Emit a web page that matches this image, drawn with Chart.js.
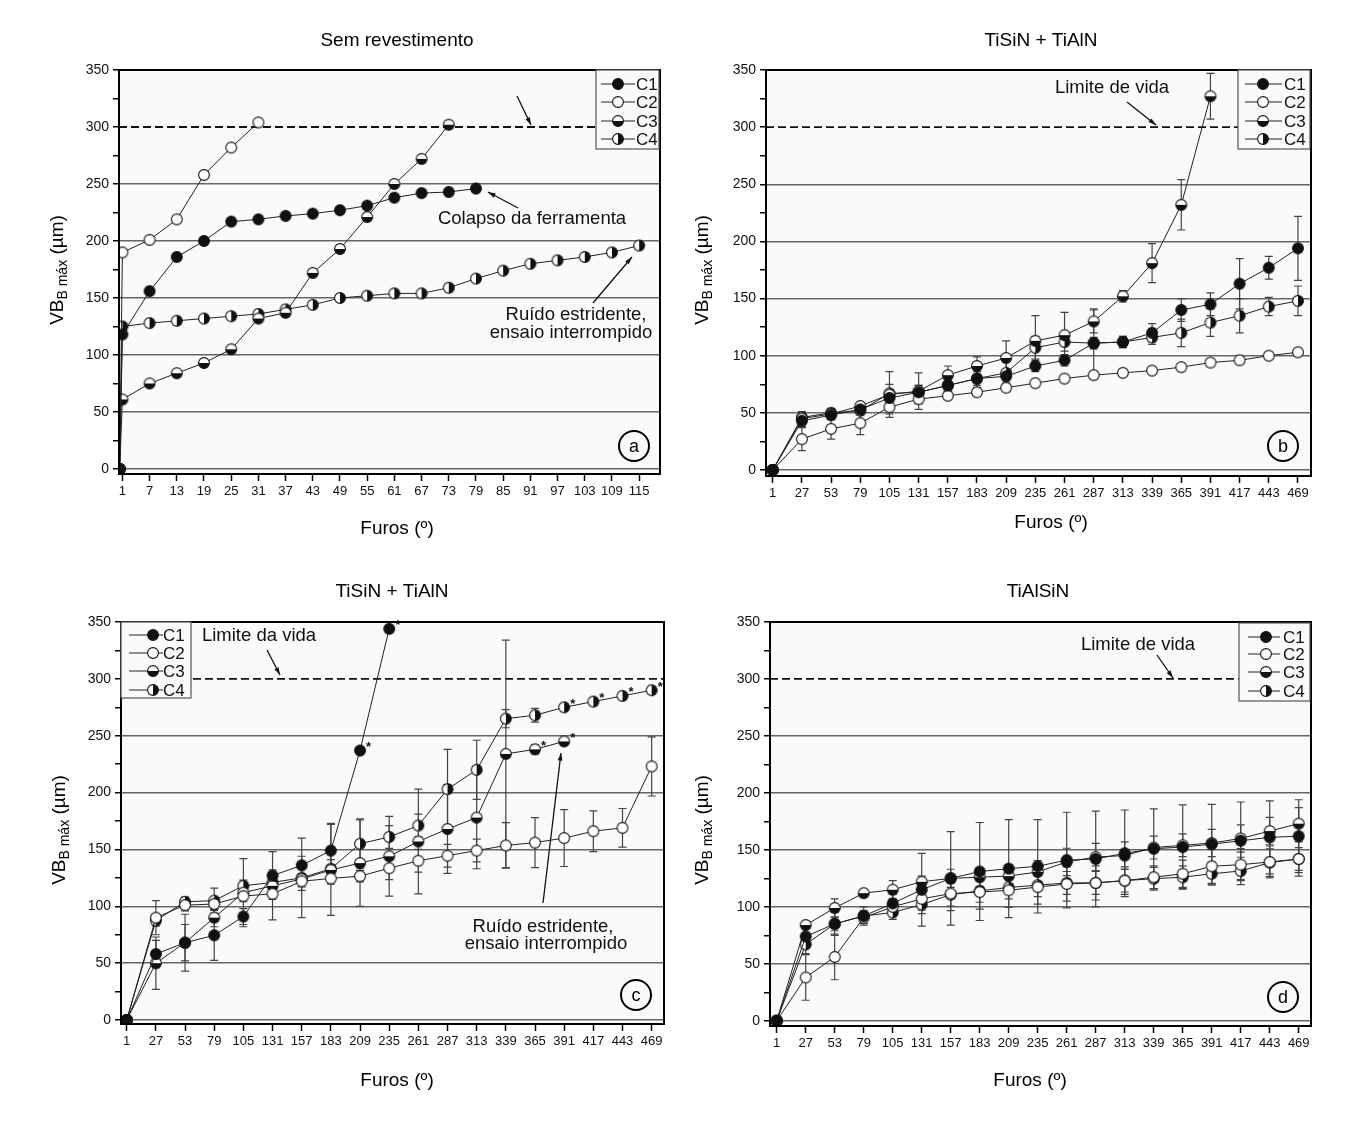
<!DOCTYPE html>
<html>
<head>
<meta charset="utf-8">
<script src="https://cdn.jsdelivr.net/npm/chart.js@4.4.1/dist/chart.umd.min.js"></script>
<style>
  body { margin: 0; background: #fff; width: 1358px; height: 1122px; position: relative; overflow: hidden; }
  canvas { position: absolute; }
</style>
</head>
<body>
<canvas id="ca" width="679" height="561" style="left:0;top:0"></canvas>
<canvas id="cb" width="679" height="561" style="left:679px;top:0"></canvas>
<canvas id="cc" width="679" height="561" style="left:0;top:561px"></canvas>
<canvas id="cd" width="679" height="561" style="left:679px;top:561px"></canvas>
<script>
// ---- data: panel a (sem revestimento) ----
const furosA = [0.4, 1, 7, 13, 19, 25, 31, 37, 43, 49, 55, 61, 67, 73, 79, 85, 91, 97, 103, 109, 115];
const ticksA = [1, 7, 13, 19, 25, 31, 37, 43, 49, 55, 61, 67, 73, 79, 85, 91, 97, 103, 109, 115];
const c1A = [0, 118, 156, 186, 200, 217, 219, 222, 224, 227, 231, 238, 242, 243, 246];
const c2A = [0, 190, 201, 219, 258, 282, 304];
const c3A = [0, 61, 75, 84, 93, 105, 132, 137, 172, 193, 221, 250, 272, 302];
const c4A = [0, 125, 128, 130, 132, 134, 136, 140, 144, 150, 152, 154, 154, 159, 167, 174, 180, 183, 186, 190, 196];

// ---- shared x values for b, c, d ----
const furos = [1, 27, 53, 79, 105, 131, 157, 183, 209, 235, 261, 287, 313, 339, 365, 391, 417, 443, 469];

// ---- panel b (TiSiN + TiAlN) ----
const c1B = [0, 43, 48, 53, 63, 68, 74, 80, 82, 91, 96, 111, 112, 120, 140, 145, 163, 177, 194];
const c2B = [0, 27, 36, 41, 55, 62, 65, 68, 72, 76, 80, 83, 85, 87, 90, 94, 96, 100, 103];
const c3B = [0, 45, 49, 56, 66, 69, 83, 91, 98, 113, 118, 130, 152, 181, 232, 327];
const c4B = [0, 46, 50, 52, 67, 68, 74, 80, 85, 107, 112, 111, 112, 116, 120, 129, 135, 143, 148];
const e1B = [0, 5, 4, 3, 4, 6, 5, 6, 5, 5, 5, 5, 5, 8, 10, 10, 22, 10, 28];
const e2B = [0, 10, 9, 10, 6, 4, 3, 3, 3, 3, 3, 3, 3, 3, 3, 3, 3, 3, 3];
const e3B = [0, 4, 4, 3, 20, 16, 8, 8, 15, 22, 20, 10, 5, 17, 22, 20];
const e4B = [0, 5, 4, 4, 8, 6, 5, 8, 10, 10, 8, 30, 5, 6, 12, 12, 15, 8, 13];

// ---- panel c (TiSiN + TiAlN) ----
const c1C = [0, 58, 68, 74.5, 91, 127, 136, 149, 237, 344];
const c2C = [0, 90, 101, 102, 109, 111, 122, 124.5, 126.5, 133.5, 140, 144.5, 149, 153.5, 156, 160, 166, 169, 223];
const c3C = [0, 50, 68, 90, 112, 118, 124, 132, 138, 144, 157, 168, 178, 234, 238, 245];
const c4C = [0, 87.5, 104, 105, 118, 121, 125, 133, 155, 161, 171, 203, 220, 265, 268, 275, 280, 285, 290];
const e1C = [0, 12, 16, 22, 7, 5, 8, 24, 0, 0];
const e2C = [0, 15, 5, 5, 5, 5, 5, 5, 5, 10, 10, 10, 10, 20, 22, 25, 18, 17, 26];
const e3C = [0, 23, 25, 8, 30, 30, 10, 40, 38, 35, 46, 39, 45, 100, 4, 3];
const e4C = [0, 5, 4, 11, 5, 5, 35, 8, 22, 10, 10, 35, 26, 8, 6, 3, 3, 3, 3];
const starsC1 = [8, 9];
const starsC3 = [14, 15];
const starsC4 = [15, 16, 17, 18];

// ---- panel d (TiAlSiN) ----
const c1D = [0, 74, 85, 92, 103, 115, 125, 131, 133.5, 135.6, 141, 142, 147, 151, 152.5, 155, 158, 161, 162];
const c2D = [0, 38, 56, 90.5, 100, 107, 111.6, 113, 114.5, 117.4, 120, 121, 123, 126, 129, 135.6, 137, 139.4, 142];
const c3D = [0, 84, 99, 112, 115, 122, 125, 126, 127, 130.6, 139.4, 143.7, 145, 152, 154, 156, 160, 166.5, 173];
const c4D = [0, 67, 85, 92, 95, 102, 110.7, 114, 117, 119, 121, 121, 123, 124.7, 126, 129, 131.5, 138.8, 142];
const e1D = [0, 8, 10, 8, 8, 32, 41, 43, 43, 41, 42, 42, 38, 35, 37, 35, 34, 32, 32];
const e2D = [0, 20, 20, 5, 6, 10, 15, 15, 15, 15, 15, 15, 12, 10, 12, 15, 14, 14, 10];
const e3D = [0, 3, 8, 3, 8, 5, 8, 8, 10, 10, 12, 12, 12, 10, 10, 12, 12, 12, 14];
const e4D = [0, 8, 6, 5, 6, 8, 10, 10, 10, 10, 10, 10, 10, 10, 10, 10, 12, 12, 15];

const yTicks = [0, 25, 50, 75, 100, 125, 150, 175, 200, 225, 250, 275, 300, 325, 350];
const vidaLimite = 300;

const FONT = '"Liberation Sans", Arial, sans-serif';

function makeMarker(kind) {
    const c = document.createElement('canvas');
    c.width = 14; c.height = 14;
    const g = c.getContext('2d');
    const r = 5.4;
    g.beginPath(); g.arc(7, 7, r, 0, Math.PI * 2);
    g.fillStyle = kind === 'full' ? '#111' : '#fff';
    g.fill();
    if (kind === 'bottom' || kind === 'right') {
        g.beginPath();
        if (kind === 'bottom') g.arc(7, 7, r, 0, Math.PI);
        else g.arc(7, 7, r, -Math.PI / 2, Math.PI / 2);
        g.closePath();
        g.fillStyle = '#111';
        g.fill();
    }
    g.beginPath(); g.arc(7, 7, r, 0, Math.PI * 2);
    g.lineWidth = 1.1; g.strokeStyle = '#111'; g.stroke();
    return c;
}

const markers = { C1: makeMarker('full'), C2: makeMarker('open'), C3: makeMarker('bottom'), C4: makeMarker('right') };

function series(label, xs, ys, errs, stars) {
    return {
        label: label,
        data: ys.map((v, i) => ({ x: xs[i], y: v })),
        errors: errs || [],
        stars: stars || [],
        pointStyle: markers[label],
        borderColor: '#222',
        borderWidth: 1,
        fill: false,
        tension: 0
    };
}

const panels = [
    { id: 'ca', ox: 0, oy: 0, l: 119, t: 70, r: 660, b: 474, xmin: 0.25, xmax: 119.6, ymin: -4.4, xTicks: ticksA,
      title: ['Sem revestimento', 397, 41], xTitle: [397, 529], yTitle: [58, 270],
      legend: { x: 596, y: 70, w: 63, h: 79, lx1: 601, lx2: 635, mx: 618, tx: 636, ys: [84, 102, 121, 139] },
      notes: [['Colapso da ferramenta', 532, 219], ['Ruído estridente,', 576, 315], ['ensaio interrompido', 571, 333]],
      arrows: [[517, 96, 531, 125], [518, 208, 488, 192], [593, 303, 632, 257]],
      letter: ['a', 634, 446],
      datasets: [series('C1', furosA, c1A), series('C2', furosA, c2A), series('C3', furosA, c3A), series('C4', furosA, c4A)] },
    { id: 'cb', ox: 679, oy: 0, l: 766, t: 70, r: 1311, b: 476, xmin: -5, xmax: 480.6, ymin: -5.25, xTicks: furos,
      title: ['TiSiN + TiAlN', 1041, 41], xTitle: [1051, 523], yTitle: [703, 270],
      legend: { x: 1238, y: 70, w: 72, h: 79, lx1: 1245, lx2: 1282, mx: 1263, tx: 1284, ys: [84, 102, 121, 139] },
      notes: [['Limite de vida', 1112, 88]],
      arrows: [[1127, 102, 1156, 125]],
      letter: ['b', 1283, 446],
      datasets: [series('C1', furos, c1B, e1B), series('C2', furos, c2B, e2B), series('C3', furos, c3B, e3B), series('C4', furos, c4B, e4B)] },
    { id: 'cc', ox: 0, oy: 561, l: 121, t: 622, r: 664, b: 1024, xmin: -4.1, xmax: 480, ymin: -3.5, xTicks: furos,
      title: ['TiSiN + TiAlN', 392, 592], xTitle: [397, 1081], yTitle: [60, 830],
      legend: { x: 121, y: 622, w: 70, h: 76, lx1: 129, lx2: 163, mx: 153, tx: 163, ys: [635, 653, 671, 690] },
      notes: [['Limite da vida', 259, 636], ['Ruído estridente,', 543, 927], ['ensaio interrompido', 546, 944]],
      arrows: [[267, 650, 280, 675], [543, 903, 561, 753]],
      letter: ['c', 636, 995],
      datasets: [series('C1', furos, c1C, e1C, starsC1), series('C2', furos, c2C, e2C), series('C3', furos, c3C, e3C, starsC3), series('C4', furos, c4C, e4C, starsC4)] },
    { id: 'cd', ox: 679, oy: 561, l: 770, t: 622, r: 1311, b: 1026, xmin: -5, xmax: 480, ymin: -4.6, xTicks: furos,
      title: ['TiAlSiN', 1038, 592], xTitle: [1030, 1081], yTitle: [703, 830],
      legend: { x: 1239, y: 623, w: 71, h: 78, lx1: 1248, lx2: 1280, mx: 1266, tx: 1283, ys: [637, 654, 672, 691] },
      notes: [['Limite de vida', 1138, 645]],
      arrows: [[1157, 655, 1173, 678]],
      letter: ['d', 1283, 997],
      datasets: [series('C1', furos, c1D, e1D), series('C2', furos, c2D, e2D), series('C3', furos, c3D, e3D), series('C4', furos, c4D, e4D)] }
];

const Y_W = 50, X_H = 40;

function drawArrow(ctx, x1, y1, x2, y2) {
    ctx.beginPath(); ctx.moveTo(x1, y1); ctx.lineTo(x2, y2);
    ctx.lineWidth = 1.3; ctx.strokeStyle = '#111'; ctx.stroke();
    const ang = Math.atan2(y2 - y1, x2 - x1), len = 8;
    ctx.beginPath();
    ctx.moveTo(x2, y2);
    ctx.lineTo(x2 - len * Math.cos(ang - 0.3), y2 - len * Math.sin(ang - 0.3));
    ctx.lineTo(x2 - len * Math.cos(ang + 0.3), y2 - len * Math.sin(ang + 0.3));
    ctx.closePath(); ctx.fillStyle = '#111'; ctx.fill();
}

function panelPlugin(p) {
    const X = v => v - p.ox, Y = v => v - p.oy;
    return {
        id: 'panelDecor',
        beforeDraw(chart) {
            const a = chart.chartArea, ctx = chart.ctx;
            ctx.save();
            ctx.fillStyle = '#fafafa';
            ctx.fillRect(a.left, a.top, a.right - a.left, a.bottom - a.top);
            ctx.restore();
        },
        beforeDatasetsDraw(chart) {
            const ctx = chart.ctx, xs = chart.scales.x, ys = chart.scales.y, a = chart.chartArea;
            ctx.save();
            // limite de vida
            const yl = ys.getPixelForValue(vidaLimite);
            ctx.beginPath(); ctx.setLineDash([8, 4]);
            ctx.moveTo(a.left, yl); ctx.lineTo(a.right, yl);
            ctx.lineWidth = 1.8; ctx.strokeStyle = '#111'; ctx.stroke();
            ctx.setLineDash([]);
            // error bars
            ctx.strokeStyle = '#444'; ctx.lineWidth = 1.2;
            chart.data.datasets.forEach(ds => {
                ds.data.forEach((pt, i) => {
                    const e = ds.errors[i];
                    if (!e) return;
                    const px = xs.getPixelForValue(pt.x);
                    const top = ys.getPixelForValue(pt.y + e), bot = ys.getPixelForValue(pt.y - e);
                    ctx.beginPath();
                    ctx.moveTo(px, top); ctx.lineTo(px, bot);
                    ctx.moveTo(px - 4, top); ctx.lineTo(px + 4, top);
                    ctx.moveTo(px - 4, bot); ctx.lineTo(px + 4, bot);
                    ctx.stroke();
                });
            });
            ctx.restore();
        },
        afterDatasetsDraw(chart) {
            const ctx = chart.ctx, xs = chart.scales.x, ys = chart.scales.y;
            ctx.save();
            ctx.font = 'bold 13px ' + FONT; ctx.fillStyle = '#111';
            ctx.textAlign = 'left'; ctx.textBaseline = 'middle';
            chart.data.datasets.forEach(ds => {
                ds.stars.forEach(i => {
                    const pt = ds.data[i];
                    ctx.fillText('*', xs.getPixelForValue(pt.x) + 6, ys.getPixelForValue(pt.y) - 3);
                });
            });
            ctx.restore();
        },
        afterDraw(chart) {
            const ctx = chart.ctx, a = chart.chartArea;
            ctx.save();
            // frame
            ctx.strokeStyle = '#000'; ctx.lineWidth = 2;
            ctx.strokeRect(a.left, a.top, a.right - a.left, a.bottom - a.top);
            // legend
            const lg = p.legend;
            ctx.fillStyle = '#fafafa';
            ctx.fillRect(X(lg.x), Y(lg.y), lg.w, lg.h);
            ctx.lineWidth = 1.2; ctx.strokeStyle = '#555';
            ctx.strokeRect(X(lg.x), Y(lg.y), lg.w, lg.h);
            ctx.font = '17px ' + FONT; ctx.textAlign = 'left'; ctx.textBaseline = 'middle';
            ['C1', 'C2', 'C3', 'C4'].forEach((name, i) => {
                const yy = Y(lg.ys[i]);
                ctx.beginPath(); ctx.moveTo(X(lg.lx1), yy); ctx.lineTo(X(lg.lx2), yy);
                ctx.lineWidth = 1; ctx.strokeStyle = '#222'; ctx.stroke();
                ctx.drawImage(markers[name], X(lg.mx) - 7, yy - 7);
                ctx.fillStyle = '#111';
                ctx.fillText(name, X(lg.tx), yy + 1);
            });
            // notes and arrows
            ctx.font = '18.5px ' + FONT; ctx.textAlign = 'center'; ctx.fillStyle = '#111';
            p.notes.forEach(n => ctx.fillText(n[0], X(n[1]), Y(n[2])));
            p.arrows.forEach(ar => drawArrow(ctx, X(ar[0]), Y(ar[1]), X(ar[2]), Y(ar[3])));
            // panel letter
            const lt = p.letter;
            ctx.beginPath(); ctx.arc(X(lt[1]), Y(lt[2]), 15, 0, Math.PI * 2);
            ctx.fillStyle = '#fafafa'; ctx.fill();
            ctx.lineWidth = 2; ctx.strokeStyle = '#000'; ctx.stroke();
            ctx.fillStyle = '#000'; ctx.font = '18px ' + FONT;
            ctx.fillText(lt[0], X(lt[1]), Y(lt[2]) + 1);
            // titles
            ctx.font = '19px ' + FONT;
            ctx.fillText(p.title[0], X(p.title[1]), Y(p.title[2]));
            ctx.fillText('Furos (º)', X(p.xTitle[0]), Y(p.xTitle[1]));
            // y title with subscript
            ctx.translate(X(p.yTitle[0]), Y(p.yTitle[1]));
            ctx.rotate(-Math.PI / 2);
            const big = '19px ' + FONT, small = '14px ' + FONT;
            const parts = [['VB', big, 0], ['B máx', small, 5], [' (µm)', big, 0]];
            let total = 0;
            parts.forEach(pt => { ctx.font = pt[1]; total += ctx.measureText(pt[0]).width; });
            let cx = -total / 2;
            ctx.textAlign = 'left';
            parts.forEach(pt => {
                ctx.font = pt[1];
                ctx.fillText(pt[0], cx, pt[2]);
                cx += ctx.measureText(pt[0]).width;
            });
            ctx.restore();
        }
    };
}

panels.forEach(p => {
    const canvas = document.getElementById(p.id);
    new Chart(canvas, {
        type: 'line',
        data: { datasets: p.datasets },
        options: {
            responsive: false,
            animation: false,
            devicePixelRatio: 1,
            layout: {
                padding: {
                    left: p.l - p.ox - Y_W,
                    top: p.t - p.oy,
                    right: p.ox + 679 - p.r,
                    bottom: p.oy + 561 - p.b - X_H
                }
            },
            plugins: { legend: { display: false }, tooltip: { enabled: false } },
            scales: {
                x: {
                    type: 'linear', min: p.xmin, max: p.xmax,
                    afterBuildTicks: s => { s.ticks = p.xTicks.map(v => ({ value: v })); },
                    afterFit: s => { s.height = X_H; },
                    border: { display: false },
                    grid: { drawOnChartArea: false, tickLength: 7, tickColor: '#000', tickWidth: 1.5 },
                    ticks: { font: { family: FONT, size: 13 }, color: '#111', padding: 3, maxRotation: 0, autoSkip: false }
                },
                y: {
                    type: 'linear', min: p.ymin, max: 350,
                    afterBuildTicks: s => { s.ticks = yTicks.map(v => ({ value: v })); },
                    afterFit: s => { s.width = Y_W; },
                    border: { display: false },
                    grid: {
                        color: c => (c.tick && c.tick.value % 50 === 0 && c.tick.value !== vidaLimite) ? '#666' : 'rgba(0,0,0,0)',
                        lineWidth: 1.5, tickLength: 6, tickColor: '#000', tickWidth: 1.5
                    },
                    ticks: {
                        font: { family: FONT, size: 14 }, color: '#111', padding: 4,
                        callback: v => (v % 50 === 0 ? v : '')
                    }
                }
            }
        },
        plugins: [panelPlugin(p)]
    });
});
</script>
</body>
</html>
